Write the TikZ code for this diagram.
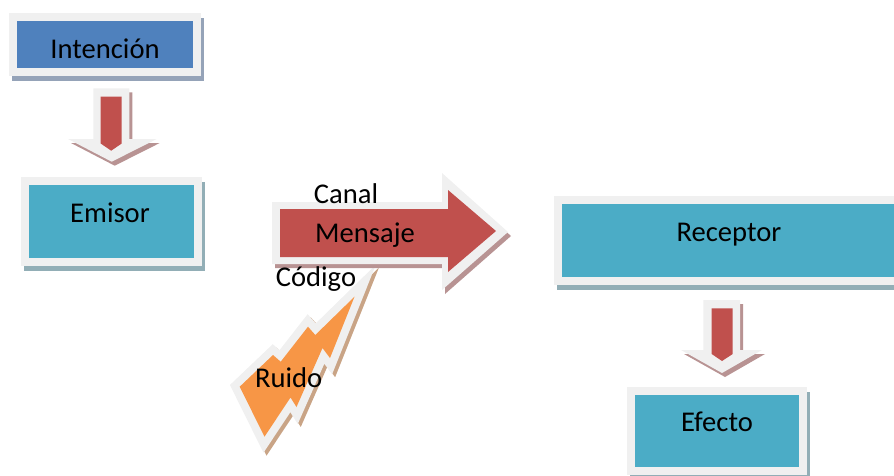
\documentclass[tikz,border=0pt]{standalone}
\usepackage{fontspec}
\setmainfont{Carlito}
\definecolor{rim}{HTML}{F0F0F0}
\definecolor{cblue}{HTML}{4F81BD}
\definecolor{cteal}{HTML}{4BACC6}
\definecolor{cred}{HTML}{C0504D}
\definecolor{corange}{HTML}{F79646}
\definecolor{shblue}{HTML}{95A3B8}
\definecolor{shteal}{HTML}{92AEB6}
\definecolor{shred}{HTML}{B89393}
\definecolor{shorange}{HTML}{C9A486}

\begin{document}
\begin{tikzpicture}[x=1pt,y=-1pt,
  plate/.style 2 args={draw=rim, line width=8pt, fill=#1, inner sep=0pt,
     preaction={draw=#2, fill=#2, transform canvas={shift={(3pt,-5pt)}}}},
  word/.style={anchor=base, inner sep=0pt, font=\fontsize{28.6}{34}\selectfont},
  bolt/.style={preaction={fill=shorange, draw=shorange, line width=16pt,
                 transform canvas={shift={(3pt,-3pt)}}},
               preaction={draw=rim, line width=16pt},
               fill=corange}]
\useasboundingbox (0,0) rectangle (894,475);
\clip (0,0) rectangle (894,475);

% process boxes
\node[plate={cblue}{shblue}, minimum width=184pt, minimum height=55.5pt] (intencion) at (105,44.25) {};
\node[plate={cteal}{shteal}, minimum width=173pt, minimum height=80.5pt] (emisor) at (111,221.25) {};
\node[plate={cteal}{shteal}, minimum width=341.7pt, minimum height=81.5pt] (receptor) at (729.15,240.25) {};
\node[plate={cteal}{shteal}, minimum width=172.8pt, minimum height=79.9pt] (efecto) at (716.9,430.75) {};

% down arrow: Intencion -> Emisor
\fill[shred, shift={(3,4)}] (93.3,88.3) -- (129.3,88.3) -- (129.3,139) -- (156.7,139) -- (111.7,161.7) -- (68,139) -- (93.3,139) -- cycle;
\fill[rim] (93.3,88.3) -- (129.3,88.3) -- (129.3,139) -- (156.7,139) -- (111.7,161.7) -- (68,139) -- (93.3,139) -- cycle;
\fill[cred] (100.7,96.7) -- (121.7,96.7) -- (121.7,143.5) -- (111.2,150.7) -- (100.7,143.5) -- cycle;

% down arrow: Receptor -> Efecto
\fill[shred, shift={(3,4)}] (703.3,300) -- (740,300) -- (740,350) -- (762,350) -- (722,373) -- (681,350) -- (703.3,350) -- cycle;
\fill[rim] (703.3,300) -- (740,300) -- (740,350) -- (762,350) -- (722,373) -- (681,350) -- (703.3,350) -- cycle;
\fill[cred] (711.7,308.3) -- (732.7,308.3) -- (732.7,354) -- (722,361) -- (711.7,354) -- cycle;

% noise bolt
\path[bolt] (354.5,296.7) -- (315.3,335) -- (308,326.7) -- (280.7,361.7) -- (273,355)
  -- (239.7,386.7) -- (264.5,436.7) -- (290.5,397.5) -- (296.5,407) -- (322.5,348)
  -- (330,358) -- cycle;

% message arrow
\fill[shred, shift={(3,4)}] (272,202) -- (442,202) -- (442,173) -- (508,232) -- (442,290) -- (442,264) -- (272,264) -- cycle;
\fill[rim] (272,202) -- (442,202) -- (442,173) -- (508,232) -- (442,290) -- (442,264) -- (272,264) -- cycle;
\fill[cred] (280,209) -- (448,209) -- (448,190) -- (496,231) -- (448,272) -- (448,257) -- (280,257) -- cycle;

% labels
\node[word] (intencion-t) at (105,58.3) {Intención};
\node[word] (emisor-t) at (110,222) {Emisor};
\node[word] (receptor-t) at (729,241.7) {Receptor};
\node[word] (efecto-t) at (717,431.7) {Efecto};
\node[word] (canal) at (346,203) {Canal};
\node[word] (mensaje) at (365,242) {Mensaje};
\node[word] (codigo) at (316,286.7) {Código};
\node[word] (ruido) at (288.7,387.7) {Ruido};
\end{tikzpicture}
\end{document}
